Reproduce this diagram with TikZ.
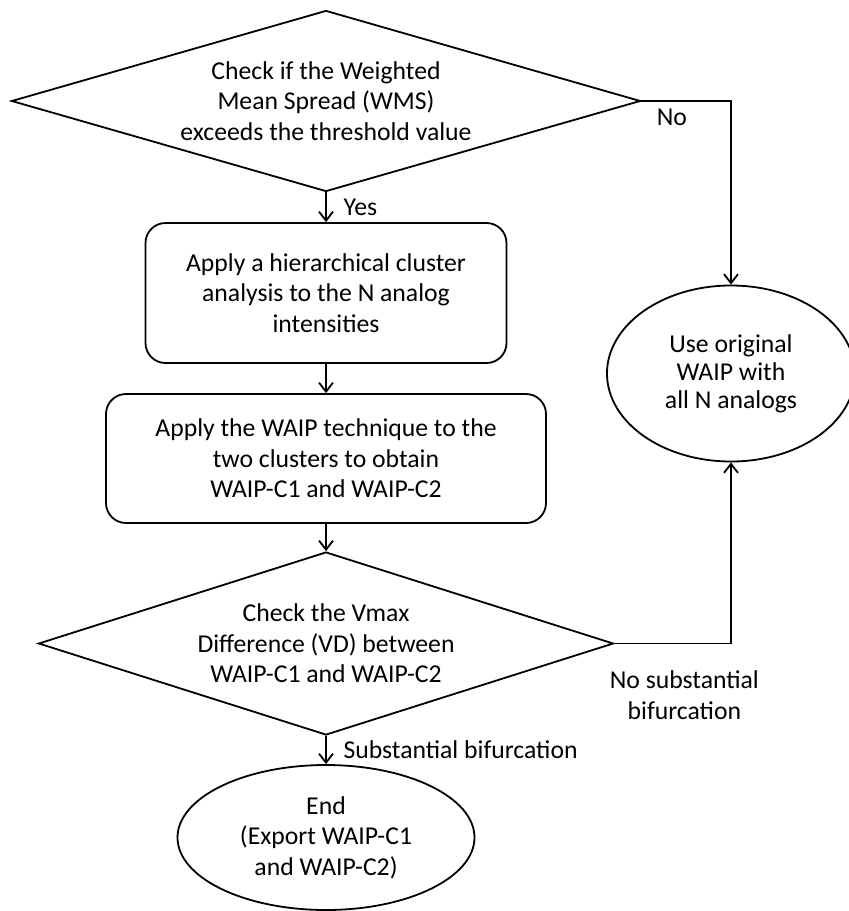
\documentclass[tikz,border=0pt]{standalone}
\usepackage{fontspec}
\setmainfont{Carlito}
\usepackage{tikz}
\usetikzlibrary{
  shapes.geometric,%
  arrows.meta,%
  positioning
}
\tikzset{>={Straight Barb[length=4.5pt,width=7pt]}}
\tikzset{font=\fontsize{12.85pt}{15.25pt}\selectfont}
\tikzset{decision/.style={diamond, draw, line width=0.9pt, inner sep=0pt, align=center},
  process/.style={rectangle, rounded corners=10pt, draw, line width=0.9pt, align=center},
  terminal/.style={ellipse, draw, line width=0.9pt, inner sep=0pt, align=center},
  flow/.style={->, line width=0.9pt}}

\begin{document}
\begin{tikzpicture}[x=0.5pt, y=-0.5pt]
  \useasboundingbox (0, 0) rectangle (848, 911);
  \node[decision, minimum width=314.5pt, minimum height=90.5pt, aspect=3.5] (wms) at (326, 101)
    {Check if the Weighted\\Mean Spread (WMS)\\exceeds the threshold value};
  \node[process, minimum width=180.5pt, minimum height=70pt] (cluster) at (326, 293)
    {Apply a hierarchical cluster\\analysis to the N analog\\intensities};
  \node[process, minimum width=220pt, minimum height=64.5pt] (waip) at (326, 458.5)
    {Apply the WAIP technique to the\\two clusters to obtain\\WAIP-C1 and WAIP-C2};
  \node[decision, minimum width=287.5pt, minimum height=91.5pt, aspect=3.1] (vd) at (326, 643.5)
    {Check the Vmax\\Difference (VD) between\\WAIP-C1 and WAIP-C2};
  \node[terminal, minimum width=148.5pt, minimum height=72.5pt] (finish) at (326, 837.5)
    {End\\(Export WAIP-C1\\and WAIP-C2)};
  \node[terminal, minimum width=124pt, minimum height=88pt,
    font=\fontsize{12.85pt}{14pt}\selectfont] (orig) at (731, 373.5)
    {Use original\\WAIP with\\all N analogs};
  % connectors
  \draw[flow] (wms) -- node[right=5pt] {Yes} (cluster);
  \draw[flow] (cluster) -- (waip);
  \draw[flow] (waip) -- (vd);
  \draw[flow] (vd) -- node[right=5pt] {Substantial bifurcation} (finish);
  \draw[flow] (wms.east) -| node[pos=0.17, below] {No} (orig.north);
  \draw[flow] (vd.east) -| node[pos=0.3, below=10pt, align=center] {No substantial\\bifurcation} (orig.south);
\end{tikzpicture}
\end{document}
